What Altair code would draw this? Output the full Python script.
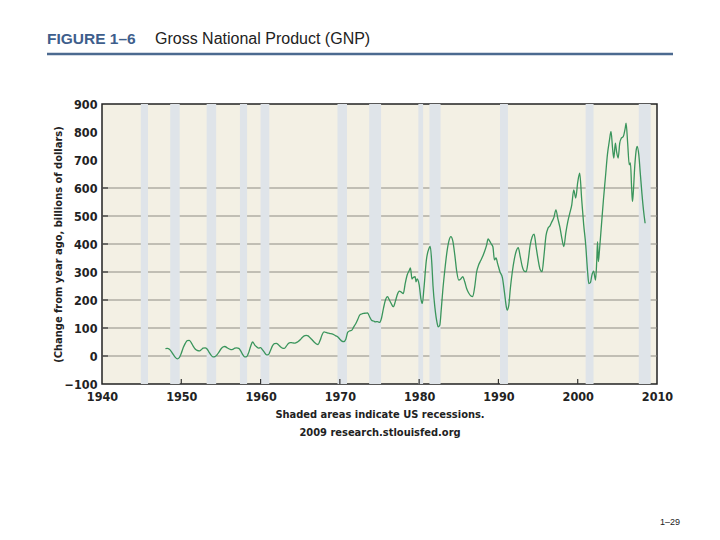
import altair as alt
import pandas as pd

# ---- data ----
years = [1948.0, 1948.25, 1948.5, 1948.75, 1949.0, 1949.25, 1949.5, 1949.75,
         1950.0, 1950.25, 1950.5, 1950.75, 1951.0, 1951.25, 1951.5, 1951.75,
         1952.0, 1952.25, 1952.5, 1952.75, 1953.0, 1953.25, 1953.5, 1953.75,
         1954.0, 1954.25, 1954.5, 1954.75, 1955.0, 1955.25, 1955.5, 1955.75,
         1956.0, 1956.25, 1956.5, 1956.75, 1957.0, 1957.25, 1957.5, 1957.75,
         1958.0, 1958.25, 1958.5, 1958.75, 1959.0, 1959.25, 1959.5, 1959.75,
         1960.0, 1960.25, 1960.5, 1960.75, 1961.0, 1961.25, 1961.5, 1961.75,
         1962.0, 1962.25, 1962.5, 1962.75, 1963.0, 1963.25, 1963.5, 1963.75,
         1964.0, 1964.25, 1964.5, 1964.75, 1965.0, 1965.25, 1965.5, 1965.75,
         1966.0, 1966.25, 1966.5, 1966.75, 1967.0, 1967.25, 1967.5, 1967.75,
         1968.0, 1968.25, 1968.5, 1968.75, 1969.0, 1969.25, 1969.5, 1969.75,
         1970.0, 1970.25, 1970.5, 1970.75, 1971.0, 1971.25, 1971.5, 1971.75,
         1972.0, 1972.25, 1972.5, 1972.75, 1973.0, 1973.25, 1973.5, 1973.75,
         1974.0, 1974.25, 1974.5, 1974.75, 1975.0, 1975.25, 1975.5, 1975.75,
         1976.0, 1976.25, 1976.5, 1976.75, 1977.0, 1977.25, 1977.5, 1977.75,
         1978.0, 1978.25, 1978.5, 1978.75, 1978.9, 1979.1, 1979.25, 1979.5,
         1979.6, 1979.75, 1980.0, 1980.25, 1980.4, 1980.6, 1980.9, 1981.25,
         1981.4, 1981.6, 1981.75, 1982.0, 1982.25, 1982.4, 1982.6, 1982.8,
         1983.0, 1983.25, 1983.5, 1983.75, 1984.0, 1984.25, 1984.5, 1984.75,
         1985.0, 1985.25, 1985.5, 1985.75, 1986.0, 1986.25, 1986.5, 1986.75,
         1987.0, 1987.25, 1987.5, 1987.75, 1988.0, 1988.25, 1988.5, 1988.7,
         1988.9, 1989.1, 1989.3, 1989.5, 1989.7, 1989.9, 1990.2, 1990.5,
         1990.75, 1991.0, 1991.1, 1991.3, 1991.5, 1991.75, 1992.0, 1992.25,
         1992.5, 1992.75, 1993.0, 1993.25, 1993.5, 1993.75, 1994.0, 1994.25,
         1994.5, 1994.75, 1995.0, 1995.25, 1995.5, 1995.75, 1996.0, 1996.25,
         1996.5, 1996.75, 1997.0, 1997.25, 1997.5, 1997.75, 1998.0, 1998.25,
         1998.5, 1998.75, 1999.0, 1999.25, 1999.5, 1999.75, 2000.0, 2000.25,
         2000.5, 2000.75, 2001.0, 2001.25, 2001.4, 2001.6, 2001.8, 2002.0,
         2002.25, 2002.4, 2002.5, 2002.6, 2002.75, 2003.0, 2003.25, 2003.5,
         2003.75, 2004.0, 2004.2, 2004.4, 2004.55, 2004.75, 2004.9, 2005.1,
         2005.3, 2005.5, 2005.75, 2006.0, 2006.1, 2006.3, 2006.5, 2006.65,
         2006.8, 2006.9, 2007.0, 2007.2, 2007.4, 2007.5, 2007.7, 2007.9,
         2008.1, 2008.3, 2008.5]
gnp_change = [26, 27, 24, 16, 5, -5, -10, -6,
              10, 30, 45, 55, 56, 48, 35, 25,
              20, 18, 22, 28, 29, 25, 14, 3,
              -3, -2, 4, 14, 25, 32, 34, 30,
              26, 23, 24, 28, 29, 27, 18, 5,
              -3, -2, 12, 35, 50, 40, 33, 28,
              30, 22, 12, 4, 5, 20, 36, 44,
              45, 40, 33, 28, 27, 35, 45, 48,
              47, 46, 48, 52, 58, 66, 72, 74,
              72, 65, 58, 50, 44, 41, 55, 75,
              86, 84, 82, 80, 79, 76, 72, 68,
              60, 53, 51, 60, 85, 90, 92, 104,
              115, 130, 146, 150, 152, 153, 154, 140,
              128, 125, 122, 123, 120, 135, 170, 200,
              212, 200, 186, 176, 195, 220, 232, 228,
              223, 260, 290, 305, 315, 275, 280, 283,
              265, 275, 255, 200, 188, 240, 340, 385,
              391, 330, 250, 170, 120, 104, 110, 170,
              240, 310, 370, 410, 426, 410, 360, 300,
              271, 275, 283, 265, 240, 225, 215, 212,
              245, 300, 325, 340, 355, 373, 395, 418,
              410, 400, 390, 343, 350, 330, 300, 280,
              230, 175, 164, 180, 240, 300, 345, 375,
              387, 355, 320, 303, 301, 340, 395, 425,
              435, 390, 345, 310, 301, 360, 430, 456,
              465, 480, 495, 522, 490, 460, 420, 391,
              440, 480, 510, 540, 593, 564, 620, 653,
              560, 470, 400, 300, 259, 262, 290, 303,
              271, 340, 408, 337, 380, 470, 560, 640,
              720, 770, 802, 740, 707, 760, 730, 707,
              760, 778, 784, 815, 832, 760, 683, 690,
              600, 552, 580, 680, 740, 749, 720, 650,
              580, 520, 474]

recession_start = [1944.9, 1948.6, 1953.2, 1957.4, 1960.0, 1969.7,
                   1973.7, 1979.9, 1981.3, 1990.2, 2001.0, 2007.7]
recession_end = [1945.8, 1949.8, 1954.4, 1958.3, 1961.1, 1970.9,
                 1975.2, 1980.5, 1982.7, 1991.2, 2002.0, 2009.2]

grid_values = [0, 100, 200, 300, 400, 500, 600]
x_ticks = [1940, 1950, 1960, 1970, 1980, 1990, 2000, 2010]
y_ticks = [-100, 0, 100, 200, 300, 400, 500, 600, 700, 800, 900]

figure_label = "FIGURE 1–6"
figure_title = "Gross National Product (GNP)"
y_title = "(Change from year ago, billions of dollars)"
note1 = "Shaded areas indicate US recessions."
note2 = "2009 research.stlouisfed.org"
page_no = "1–29"

# ---- tables ----
series = pd.DataFrame({"year": years, "value": gnp_change})
rec = pd.DataFrame({"start": recession_start, "end": recession_end})
grid = pd.DataFrame({"v": grid_values})
inner_ticks = pd.DataFrame({"t": x_ticks[1:-1]})

W, H = 555, 280
COND = "DejaVu Sans Condensed, Liberation Sans Narrow, Arial Narrow, sans-serif"

xscale = alt.Scale(domain=[1940, 2010], nice=False, zero=False)
yscale = alt.Scale(domain=[-100, 900], nice=False, zero=False)

xaxis = alt.Axis(values=x_ticks, format="d", title=None, grid=False, domain=False,
                 ticks=False, labelFont=COND, labelFontWeight="bold", labelFontSize=12.5,
                 labelColor="#222", labelPadding=6, labelFlush=False, labelOverlap=False)
yaxis = alt.Axis(values=y_ticks, title=y_title, grid=False, domain=False, ticks=False,
                 labelFont=COND, labelFontWeight="bold", labelFontSize=12.5,
                 labelColor="#222", labelPadding=5, labelOverlap=False,
                 labelFlush=False,
                 titleFont=COND, titleFontWeight="bold", titleFontSize=11,
                 titleColor="#222", titleX=-44, titleY=140, titleAngle=-90,
                 titleAlign="center", titleBaseline="middle")

gridlines = alt.Chart(grid).mark_rule(color="#8e8c84", strokeWidth=1).encode(
    y=alt.Y("v:Q", scale=yscale, axis=yaxis),
    x=alt.value(0), x2=alt.value(W))

ytick_marks = alt.Chart(grid).mark_rule(color="#333", strokeWidth=1.2).encode(
    y=alt.Y("v:Q", scale=yscale, axis=yaxis),
    x=alt.value(0), x2=alt.value(6))

shades = alt.Chart(rec).mark_rect(color="#dfe4e9").encode(
    x=alt.X("start:Q", scale=xscale, axis=xaxis),
    x2="end:Q",
    y=alt.value(0), y2=alt.value(H))

xtick_marks = alt.Chart(inner_ticks).mark_rule(color="#333", strokeWidth=1.2).encode(
    x=alt.X("t:Q", scale=xscale, axis=xaxis),
    y=alt.value(H), y2=alt.value(H - 5))

line = alt.Chart(series).mark_line(color="#3a955c", strokeWidth=1.3,
                                   interpolate="monotone").encode(
    x=alt.X("year:Q", scale=xscale, axis=xaxis),
    y=alt.Y("value:Q", scale=yscale, axis=yaxis))

one = pd.DataFrame({"a": [0]})

def label(text, x, y, size, color="#222", weight="normal",
          font="Liberation Sans, Arial, sans-serif", align="left"):
    return alt.Chart(one).mark_text(align=align, baseline="middle", fontSize=size,
                                    fontWeight=weight, font=font, color=color).encode(
        x=alt.value(x), y=alt.value(y), text=alt.value(text))

t1 = label(figure_label, -55, -65, 15.5, color="#3e5e8c", weight="bold")
t2 = label(figure_title, 53, -65, 16, color="#222")
title_rule = alt.Chart(one).mark_rule(color="#4c6a90", strokeWidth=2.5).encode(
    x=alt.value(-55), x2=alt.value(571), y=alt.value(-50))
n1 = label(note1, 278, 311, 11, weight="bold", font=COND, align="center")
n2 = label(note2, 278, 329, 11, weight="bold", font=COND, align="center")
pg = label(page_no, 568, 418, 9, align="center")

chart = alt.layer(gridlines, ytick_marks, shades, xtick_marks, line,
                  t1, t2, title_rule, n1, n2, pg).properties(
    width=W, height=H,
    autosize=alt.AutoSizeParams(type="none"),
    padding={"left": 94, "top": 96, "right": 55, "bottom": 150},
    background="white",
).configure_view(fill="#f3f0e4", stroke="#222", strokeWidth=1.5)

chart.save("out.html", embed_options={"renderer": "svg", "actions": False})
